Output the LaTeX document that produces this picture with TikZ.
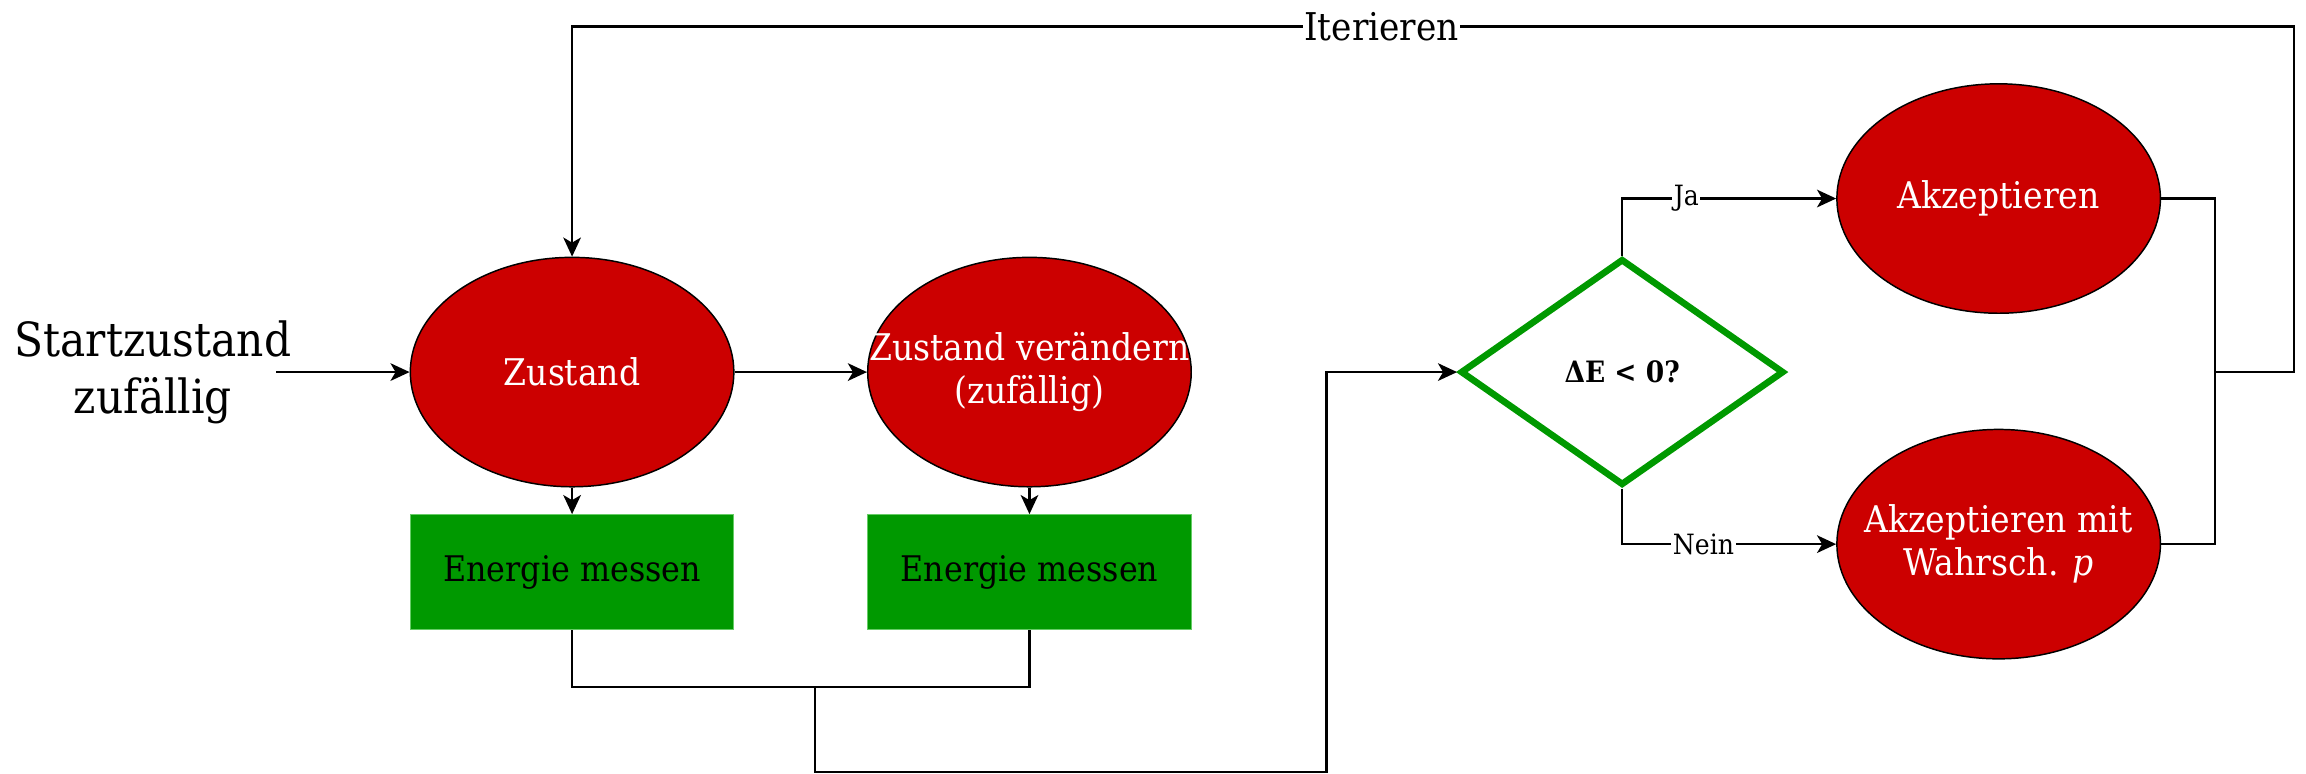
\documentclass[tikz,border=0pt]{standalone}
\usepackage{fontspec}
\setmainfont{DejaVu Serif}[FakeStretch=0.9]
\usetikzlibrary{arrows.meta,shapes.geometric}
\definecolor{myred}{HTML}{CC0000}
\definecolor{mygreen}{HTML}{009900}
\definecolor{boxedge}{HTML}{66CC66}
\tikzset{
  ell/.style={ellipse, draw=black, line width=1pt, fill=myred, minimum width=220pt, minimum height=156pt, inner sep=0pt},
  elltext/.style={text=white, align=center, font=\fontsize{25}{29}\selectfont, inner sep=0pt},
  ebox/.style={rectangle, draw=boxedge, line width=0.8pt, fill=mygreen, minimum width=220pt, minimum height=78pt, inner sep=0pt, font=\fontsize{24}{28}\selectfont},
  dec/.style={diamond, draw=mygreen, line width=4.5pt, minimum width=220pt, minimum height=154pt, inner sep=0pt, font=\bfseries\fontsize{20}{24}\selectfont},
  conn/.style={draw=black, line width=1.5pt},
  arr/.style={conn, -{Stealth[length=13pt,width=12pt,inset=3.5pt]}},
  lbl/.style={fill=white, inner sep=1pt, font=\fontsize{19}{22}\selectfont},
}
\begin{document}
\begin{tikzpicture}[x=1pt,y=-1pt]
\useasboundingbox (0,0) rectangle (1568,526);
\node[align=center, font=\fontsize{32}{39}\selectfont, inner sep=0pt] (start) at (104,253) {Startzustand\\zufällig};
\coordinate (s0) at (188,253);
\node[ell] (z) at (389,253) {};
\node[elltext] at (z) {Zustand};
\node[ell] (zv) at (700,253) {};
\node[elltext] at (zv) {Zustand verändern\\(zufällig)};
\node[ebox] (e1) at (389,389) {Energie messen};
\node[ebox] (e2) at (700,389) {Energie messen};
\node[dec] (d) at (1103,253) {ΔE < 0?};
\node[ell] (ak) at (1359,135) {};
\node[elltext] at (ak) {Akzeptieren};
\node[ell] (akp) at (1359,370) {};
\node[elltext] at (akp) {Akzeptieren mit\\Wahrsch. \textit{p}};
\coordinate (m) at (554,467);
\coordinate (c1) at (902,525);
\coordinate (j) at (1506,253);
\coordinate (r1) at (1560,253);
\coordinate (r2) at (1560,18);
\coordinate (r3) at (389,18);
\draw[arr] (s0) -- (z.west);
\draw[arr] (z.east) -- (zv.west);
\draw[arr] (z.south) -- (e1.north);
\draw[arr] (zv.south) -- (e2.north);
\draw[conn] (e1.south) -- ++(0,39) -| (e2.south);
\draw[arr] (m) |- (c1) |- (d.west);
\draw[arr] (d.north) |- node[lbl, pos=0.65] {Ja} (ak.west);
\draw[arr] (d.south) |- node[lbl, pos=0.69] {Nein} (akp.west);
\draw[conn] (ak.east) -| (j);
\draw[conn] (akp.east) -| (j);
\draw[arr] (j) -- (r1) -- (r2) -- node[lbl, pos=0.53, font=\fontsize{26}{30}\selectfont] {Iterieren} (r3) -- (z.north);
\end{tikzpicture}
\end{document}
